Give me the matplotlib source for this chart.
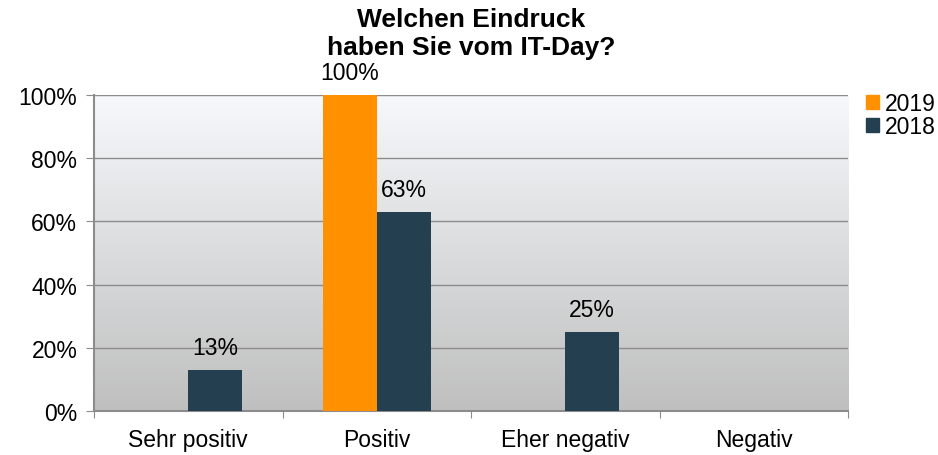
import numpy as np
import matplotlib
matplotlib.use("Agg")
from matplotlib import pyplot as plt
from matplotlib.patches import Patch

categories = ["Sehr positiv", "Positiv", "Eher negativ", "Negativ"]
years = ["2019", "2018"]
values_2019 = [0, 100, 0, 0]
values_2018 = [13, 63, 25, 0]

plt.rcParams['font.family'] = ['Liberation Sans', 'DejaVu Sans']
fs = 16.5

fig = plt.figure(figsize=(9.38, 4.56), dpi=100)
ax = fig.add_axes([94/938, 44/456, (848-94)/938, (412-96)/456])

# gradient background
grad = np.linspace(0, 1, 256).reshape(-1, 1)
top = np.array([0.965, 0.973, 0.984])
bot = np.array([0.75, 0.75, 0.75])
img = bot + (top - bot) * grad
ax.imshow(img[:, None, :].repeat(2, axis=1), extent=[0, 4, 0, 100], origin="lower",
          aspect="auto", zorder=0)

x = np.arange(len(categories)) + 0.5
w = 0.286
colors = ["#ff9000", "#233f50"]
for vals, off, c in [(values_2019, -w/2, colors[0]), (values_2018, w/2, colors[1])]:
    for xi, v in zip(x, vals):
        if v > 0:
            ax.bar(xi + off, v, width=w, color=c, zorder=3)
            ax.text(xi + off, v + 3.5, f"{v}%", ha="center", va="bottom", fontsize=fs, zorder=4)

ax.set_xlim(0, 4)
ax.set_ylim(0, 100)
ax.set_yticks(range(0, 101, 20))
ax.set_yticklabels([f"{t}%" for t in range(0, 101, 20)], fontsize=fs)
ax.yaxis.grid(True, color="#8c8c8c", linewidth=1, zorder=1)
ax.set_axisbelow(True)
ax.set_xticks(range(5))
ax.set_xticklabels([])
ax.set_xticks(x, minor=True)
ax.set_xticklabels(categories, minor=True, fontsize=fs)
ax.tick_params(axis="x", which="minor", length=0, pad=12)
ax.tick_params(axis="x", which="major", length=5, color="#8c8c8c")
ax.tick_params(axis="y", length=6, color="#8c8c8c", pad=6)
for s in ["top", "right"]:
    ax.spines[s].set_visible(False)
for s in ["left", "bottom"]:
    ax.spines[s].set_color("#8c8c8c")
    ax.spines[s].set_linewidth(1.5)

fig.text(471/938, 1 - 34/456, "Welchen Eindruck\nhaben Sie vom IT-Day?", ha="center", va="center",
         fontsize=19, fontweight="bold", linespacing=1.25)

handles = [Patch(color=c) for c in colors]
fig.legend(handles, years, loc="upper left", bbox_to_anchor=(855/938, 1 - 82/456), frameon=False,
           fontsize=fs, handlelength=0.55, handleheight=0.55, handletextpad=0.25, labelspacing=0.0,
           borderpad=0.0)

fig.savefig("out.png", dpi=100)
